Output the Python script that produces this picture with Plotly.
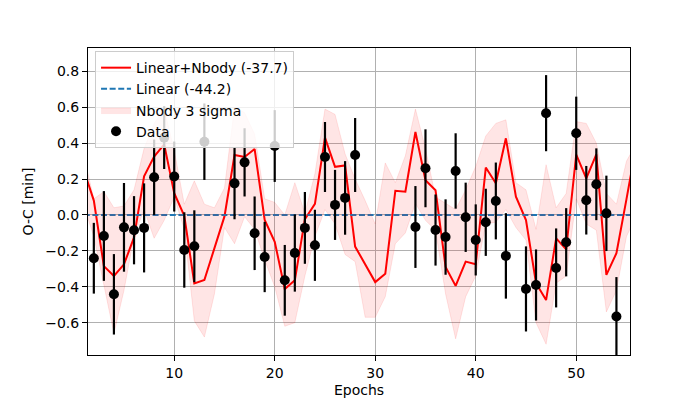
import plotly.graph_objects as go

# model epochs (Linear+Nbody and 3 sigma band)
model_epochs = [1, 2, 3, 4, 5, 6, 7, 8, 9, 10, 11, 12, 13, 14, 15, 16, 17, 18, 19, 20,
                21, 22, 23, 24, 25, 26, 27, 28, 29, 30, 31, 32, 33, 34, 35, 36, 37, 38, 39, 40,
                41, 42, 43, 44, 45, 46, 47, 48, 49, 50, 51, 52, 53, 54, 55, 56]
model_oc = [0.25, 0.08, -0.285, -0.34, -0.275, -0.125, 0.215, 0.325, 0.393, 0.121,
            -0.005, -0.381, -0.362, -0.186, -0.008, 0.334, 0.323, 0.367, -0.028, -0.149,
            -0.413, -0.364, -0.024, 0.062, 0.431, 0.268, 0.276, -0.176, -0.272, -0.374,
            -0.328, 0.135, 0.13, 0.462, 0.193, 0.138, -0.289, -0.395, -0.26, -0.274,
            0.264, 0.177, 0.427, 0.102, -0.028, -0.38, -0.474, -0.13, -0.192, 0.336,
            0.204, 0.338, -0.334, -0.213, 0.088, 0.40]
band_upper = [0.33, 0.09, 0.13, 0.04, 0.05, 0.14, 0.37, 0.51, 0.59, 0.36,
              0.06, 0.19, 0.06, 0.04, 0.15, 0.60, 0.57, 0.45, 0.09, 0.07,
              0.00, 0.18, 0.01, 0.23, 0.59, 0.56, 0.34, 0.20, 0.08, -0.05,
              0.29, 0.18, 0.33, 0.59, 0.37, 0.10, 0.065, 0.03, 0.14, 0.27,
              0.44, 0.51, 0.53, 0.18, 0.14, -0.08, 0.28, 0.04, 0.12, 0.52,
              0.51, 0.40, 0.12, 0.06, 0.30, 0.40]
band_lower = [0.05, -0.12, -0.38, -0.66, -0.42, -0.12, 0.03, -0.13, -0.03, 0.10,
              -0.08, -0.59, -0.68, -0.44, -0.07, -0.16, -0.01, -0.08, -0.25, -0.40,
              -0.62, -0.60, -0.34, -0.12, 0.03, -0.05, -0.22, -0.26, -0.57, -0.57,
              -0.455, -0.16, -0.10, 0.065, -0.03, -0.085, -0.44, -0.69, -0.455, -0.34,
              -0.05, -0.04, 0.03, -0.07, -0.14, -0.60, -0.72, -0.38, -0.34, 0.09,
              -0.05, -0.085, -0.54, -0.42, -0.12, 0.00]
linear_oc = [0.0] * len(model_epochs)

# observed O-C
data_epochs = [2, 3, 4, 5, 6, 7, 8, 9, 10, 11, 12, 13, 16, 17, 18, 19, 20, 21, 22, 23,
               24, 25, 26, 27, 28, 34, 35, 36, 37, 38, 39, 40, 41, 42, 43, 45, 46, 47, 48, 49,
               50, 51, 52, 53, 54]
data_oc = [-0.241, -0.117, -0.442, -0.069, -0.085, -0.072, 0.21, 0.431, 0.214, -0.195,
           -0.174, 0.408, 0.176, 0.293, -0.102, -0.234, 0.384, -0.364, -0.212, -0.072,
           -0.169, 0.323, 0.056, 0.095, 0.334, -0.067, 0.26, -0.084, -0.123, 0.245,
           -0.013, -0.139, -0.041, 0.078, -0.228, -0.412, -0.39, 0.567, -0.295, -0.152,
           0.455, 0.082, 0.171, 0.009, -0.566]
data_err = [0.197, 0.25, 0.224, 0.247, 0.19, 0.248, 0.21, 0.175, 0.195, 0.21,
            0.2, 0.213, 0.2, 0.19, 0.205, 0.196, 0.2, 0.197, 0.215, 0.2,
            0.198, 0.195, 0.195, 0.205, 0.206, 0.228, 0.217, 0.198, 0.21, 0.21,
            0.193, 0.198, 0.187, 0.214, 0.238, 0.237, 0.198, 0.212, 0.22, 0.19,
            0.204, 0.191, 0.2, 0.21, 0.22]

font = "DejaVu Sans"
fsize = 14

fig = go.Figure()

fig.add_trace(go.Scatter(x=model_epochs, y=model_oc, mode="lines", name="Linear+Nbody (-37.7)",
                         line=dict(color="red", width=2)))
fig.add_trace(go.Scatter(x=model_epochs, y=linear_oc, mode="lines", name="Linear (-44.2)",
                         line=dict(color="#1f77b4", width=2, dash="6px,2.6px")))
fig.add_trace(go.Scatter(x=model_epochs + model_epochs[::-1], y=band_upper + band_lower[::-1],
                         mode="lines", fill="toself", fillcolor="rgba(255,0,0,0.1)",
                         line=dict(color="rgba(255,0,0,0.1)", width=1), name="Nbody 3 sigma"))
fig.add_trace(go.Scatter(x=data_epochs, y=data_oc, mode="markers", name="Data",
                         marker=dict(color="black", size=10),
                         error_y=dict(type="data", array=data_err, color="black", thickness=2.2, width=0)))

axis_common = dict(showline=True, mirror=True, linecolor="black", linewidth=1,
                   ticks="outside", ticklen=5, tickcolor="black", showgrid=True,
                   gridcolor="#b0b0b0", gridwidth=1, zeroline=False, automargin=False,
                   tickfont=dict(family=font, size=fsize, color="black"))

fig.update_layout(
    width=700, height=400,
    margin=dict(l=88, r=70, t=48, b=45, autoexpand=False),
    paper_bgcolor="white", plot_bgcolor="white",
    font=dict(family=font, size=fsize, color="black"),
    showlegend=True,
    legend=dict(x=0.013, y=0.99, xanchor="left", yanchor="top",
                bgcolor="rgba(255,255,255,0.8)", bordercolor="#cccccc", borderwidth=1,
                font=dict(family=font, size=fsize), traceorder="normal"),
    xaxis=dict(range=[1.42, 55.35], tickvals=[10, 20, 30, 40, 50],
               title=dict(text="Epochs", standoff=5, font=dict(family=font, size=fsize)),
               **axis_common),
    yaxis=dict(range=[-0.78, 0.93], tickvals=[-0.6, -0.4, -0.2, 0.0, 0.2, 0.4, 0.6, 0.8],
               tickformat=".1f",
               title=dict(text="O-C [min]", standoff=8, font=dict(family=font, size=fsize)),
               **axis_common),
)

# page body has a default 8px margin, drop it so the figure sits at the corner
fig.write_html("out.html", config={"displayModeBar": False},
               post_script="document.body.style.margin='0px';")
